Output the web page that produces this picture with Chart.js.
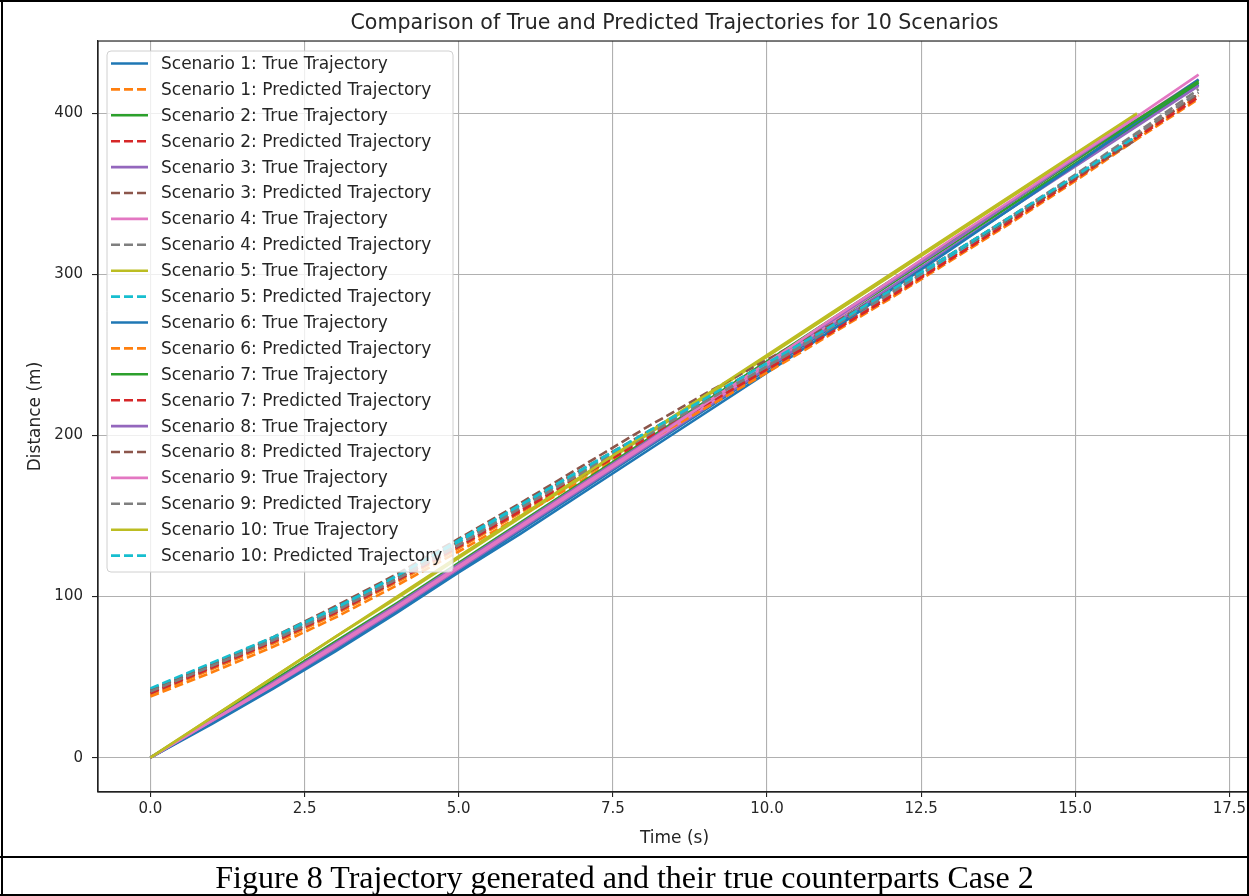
<!DOCTYPE html>
<html>
<head>
<meta charset="utf-8">
<script src="https://cdn.jsdelivr.net/npm/chart.js@4.4.0/dist/chart.umd.min.js"></script>
<style>
  html, body { margin: 0; padding: 0; background: #fff; }
  #page { position: relative; width: 1249px; height: 896px; overflow: hidden; background: #fff; }
  #page canvas { position: absolute; left: 0; top: 0; }
  .rule { position: absolute; background: #000; }
  #caption {
    position: absolute; left: 0; top: 858px; width: 1249px; height: 36px; line-height: 39px;
    text-align: center; font-family: "Liberation Serif", "Times New Roman", serif;
    font-size: 32px; color: #000;
  }
</style>
</head>
<body>
<div id="page">
  <canvas id="trajChart" width="1265" height="856"></canvas>
  <div class="rule" style="left:0;top:0;width:1249px;height:2px"></div>
  <div class="rule" style="left:1px;top:0;width:2px;height:896px"></div>
  <div class="rule" style="left:1247px;top:0;width:2px;height:896px"></div>
  <div class="rule" style="left:0;top:856px;width:1249px;height:2px"></div>
  <div class="rule" style="left:0;top:894px;width:1249px;height:2px"></div>
  <div id="caption">Figure 8 Trajectory generated and their true counterparts Case 2</div>
</div>
<script>
// time stamps (s)
const times17 = [0, 1, 2, 3, 4, 5, 6, 7, 8, 9, 10, 11, 12, 13, 14, 15, 16, 17];
const times16 = [0, 1, 2, 3, 4, 5, 6, 7, 8, 9, 10, 11, 12, 13, 14, 15, 16];

// true trajectories (m)
const trueS1  = [0, 22, 44, 67, 91, 116, 141, 166, 191, 216, 241, 266, 291, 317, 342, 368, 393, 418];
const trueS2  = [0, 23, 46, 70, 94, 119, 144, 169, 194, 219, 244, 269, 294, 319, 344, 369, 394, 419];
const trueS3  = [0, 22, 44, 68, 92, 117, 142, 167, 192, 217, 242, 267, 292, 317, 342, 367, 392, 417];
const trueS4  = [0, 22, 45, 69, 93, 118, 143, 168, 193, 218, 244, 269, 295, 320, 346, 371, 396, 421];
const trueS5  = [0, 25, 50, 75, 99, 124, 149, 174, 199, 224, 249, 274, 299, 324, 349, 374, 399];
const trueS6  = [0, 21, 43, 66, 90, 115, 139, 164, 189, 214, 239, 264, 290, 316, 342, 368, 395, 421];
const trueS7  = [0, 24, 48, 72, 96, 121, 146, 171, 196, 221, 246, 271, 296, 321, 346, 371, 396, 420];
const trueS8  = [0, 23, 47, 71, 95, 120, 145, 170, 195, 220, 245, 270, 295, 320, 346, 372, 398];
const trueS9  = [0, 23, 46, 70, 94, 119, 144, 169, 194, 220, 245, 271, 296, 322, 347, 373, 398, 424];
const trueS10 = [0, 25, 50, 75, 100, 125, 150, 175, 200, 225, 250, 275, 300, 325, 350, 375, 400];

// predicted trajectories (m)
const predS1  = [39, 55, 71, 89, 109, 130, 152, 174, 196, 218, 240, 263, 286, 310, 334, 359, 385, 411];
const predS2  = [41, 57, 73, 91, 111, 132, 154, 176, 198, 220, 242, 264, 287, 311, 335, 360, 386, 412];
const predS3  = [41, 57, 74, 92, 112, 134, 156, 179, 201, 223, 245, 267, 290, 313, 337, 361, 386, 412];
const predS4  = [40, 56, 72, 90, 110, 131, 153, 176, 198, 220, 242, 265, 288, 312, 336, 361, 387, 413];
const predS5  = [42, 58, 74, 92, 113, 134, 156, 178, 200, 222, 244, 266, 289, 312, 336, 360, 386];
const predS6  = [38, 53, 69, 87, 107, 128, 150, 172, 195, 217, 239, 262, 285, 309, 333, 358, 384, 409];
const predS7  = [40, 56, 72, 90, 110, 131, 153, 175, 197, 219, 241, 263, 286, 310, 334, 359, 385, 410];
const predS8  = [42, 58, 75, 94, 114, 136, 158, 181, 204, 226, 247, 268, 290, 313, 336, 360, 384];
const predS9  = [41, 57, 73, 91, 111, 132, 155, 177, 199, 221, 243, 266, 289, 313, 337, 362, 388, 415];
const predS10 = [43, 59, 75, 93, 113, 135, 157, 179, 201, 223, 245, 267, 290, 313, 337, 361, 386];

const scenarioTimes = [times17, times17, times17, times17, times16, times17, times17, times16, times17, times16];
const trueSeries = [trueS1, trueS2, trueS3, trueS4, trueS5, trueS6, trueS7, trueS8, trueS9, trueS10];
const predSeries = [predS1, predS2, predS3, predS4, predS5, predS6, predS7, predS8, predS9, predS10];

// axis ticks
const xTicks = [0, 2.5, 5, 7.5, 10, 12.5, 15, 17.5];
const yTicks = [0, 100, 200, 300, 400];

const tab10 = ["#1f77b4", "#ff7f0e", "#2ca02c", "#d62728", "#9467bd",
               "#8c564b", "#e377c2", "#7f7f7f", "#bcbd22", "#17becf"];

const textColor = "#262626";
const fontFamily = "'DejaVu Sans', sans-serif";

const toPoints = (xs, ys) => ys.map((y, i) => ({ x: xs[i], y: y }));

const datasets = [];
for (let s = 0; s < 10; s++) {
    const c = 2 * s;
    datasets.push({
        label: `Scenario ${s + 1}: True Trajectory`,
        data: toPoints(scenarioTimes[s], trueSeries[s]),
        borderColor: tab10[c % 10],
        borderWidth: 2.6,
        borderDash: [],
    });
    datasets.push({
        label: `Scenario ${s + 1}: Predicted Trajectory`,
        data: toPoints(scenarioTimes[s], predSeries[s]),
        borderColor: tab10[(c + 1) % 10],
        borderWidth: 2.6,
        borderDash: [9, 4],
    });
}
// later series drawn on top, like matplotlib
datasets.forEach((d, i) => { d.order = datasets.length - i; });

// frame of the axes + legend box inside the plot
const axesDecor = {
    id: "axesDecor",
    afterDraw(chart) {
        const { ctx, chartArea: a } = chart;
        ctx.save();
        ctx.strokeStyle = "#222";
        ctx.lineWidth = 1.2;
        ctx.strokeRect(a.left, a.top, a.right - a.left, a.bottom - a.top);

        // legend
        const bx = a.left + 9, by = a.top + 10, bw = 346, bh = 521;
        ctx.beginPath();
        ctx.roundRect(bx, by, bw, bh, 4);
        ctx.fillStyle = "rgba(255,255,255,0.8)";
        ctx.fill();
        ctx.strokeStyle = "#d0d0d0";
        ctx.lineWidth = 1;
        ctx.stroke();

        ctx.font = "17px " + fontFamily;
        ctx.textBaseline = "middle";
        ctx.textAlign = "left";
        chart.data.datasets.forEach((d, i) => {
            const y = by + 12.5 + i * 25.9;
            ctx.beginPath();
            ctx.setLineDash(d.borderDash);
            ctx.strokeStyle = d.borderColor;
            ctx.lineWidth = d.borderWidth;
            ctx.moveTo(bx + 4, y);
            ctx.lineTo(bx + 41, y);
            ctx.stroke();
            ctx.setLineDash([]);
            ctx.fillStyle = textColor;
            ctx.fillText(d.label, bx + 54, y + 1);
        });
        ctx.restore();
    }
};

const ctx = document.getElementById("trajChart").getContext("2d");
const chart = new Chart(ctx, {
    type: "line",
    data: { datasets: datasets },
    plugins: [axesDecor],
    options: {
        responsive: false,
        animation: false,
        devicePixelRatio: 1,
        layout: { padding: { left: 0, right: 14, top: 0, bottom: 0 } },
        elements: { point: { radius: 0 }, line: { tension: 0 } },
        plugins: {
            legend: { display: false },
            tooltip: { enabled: false },
            title: {
                display: true,
                fullSize: false,
                text: "Comparison of True and Predicted Trajectories for 10 Scenarios",
                color: textColor,
                font: { family: fontFamily, size: 20.6, weight: "normal" },
                padding: { top: 11.4, bottom: 4.9 },
            },
        },
        scales: {
            x: {
                type: "linear",
                min: -0.85,
                max: 17.85,
                afterBuildTicks: (scale) => { scale.ticks = xTicks.map((v) => ({ value: v })); },
                afterFit: (scale) => { scale.height = 64; },
                ticks: {
                    color: textColor,
                    font: { family: fontFamily, size: 15 },
                    padding: 3,
                    maxRotation: 0,
                    autoSkip: false,
                    callback: (v) => Number(v).toFixed(1),
                },
                grid: { color: "#b0b0b0", lineWidth: 1.1, tickLength: 5, tickColor: "#222" },
                border: { display: true, color: "#222", width: 1.2 },
                title: {
                    display: true,
                    text: "Time (s)",
                    color: textColor,
                    font: { family: fontFamily, size: 17 },
                    padding: { top: 4, bottom: 7 },
                },
            },
            y: {
                type: "linear",
                min: -21.3,
                max: 444.9,
                afterBuildTicks: (scale) => { scale.ticks = yTicks.map((v) => ({ value: v })); },
                afterFit: (scale) => { scale.width = 98; },
                ticks: {
                    color: textColor,
                    font: { family: fontFamily, size: 15 },
                    padding: 9,
                    autoSkip: false,
                },
                grid: { color: "#b0b0b0", lineWidth: 1.1, tickLength: 6, tickColor: "#222" },
                border: { display: true, color: "#222", width: 1.2 },
                title: {
                    display: true,
                    text: "Distance (m)",
                    color: textColor,
                    font: { family: fontFamily, size: 17 },
                    padding: { top: 25.8, bottom: 0 },
                },
            },
        },
    },
});
</script>
</body>
</html>
